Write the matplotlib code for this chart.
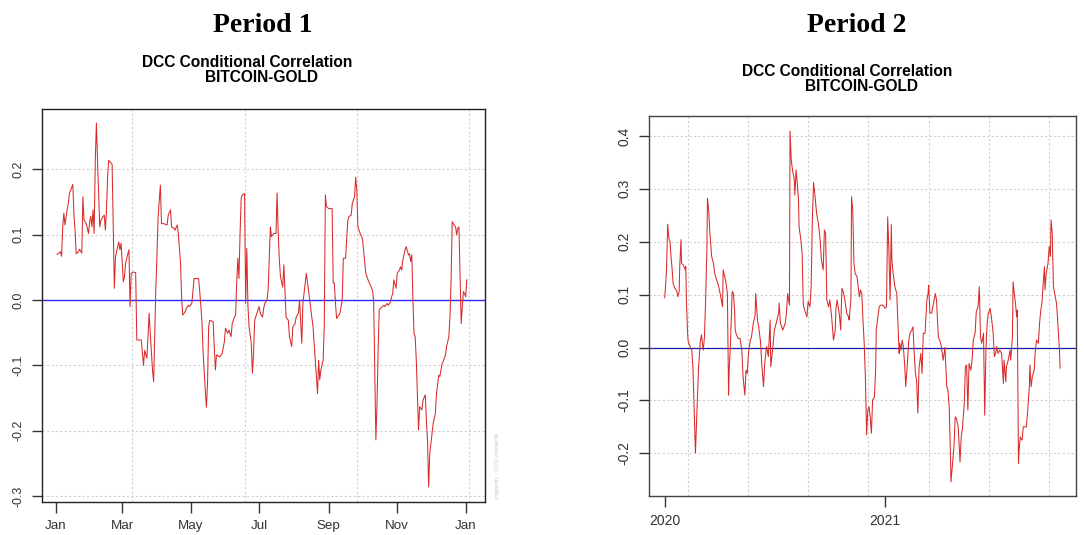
import matplotlib
matplotlib.use("Agg")
import matplotlib.pyplot as plt
import matplotlib.dates as mdates
import pandas as pd

plt.rcParams['font.family'] = ['Liberation Sans', 'DejaVu Sans']

# ---- Period 1 : DCC conditional correlation, BITCOIN-GOLD (2019) ----
p1_start = "2019-01-01"
p1_days = [1, 4, 5, 6, 7, 8, 10, 11, 12, 15, 16, 17, 18, 20, 21, 23, 24, 25, 27, 29,
           30, 31, 32, 33, 34, 35, 36, 37, 39, 40, 42, 43, 44, 45, 46, 47, 50, 51, 52, 53,
           54, 55, 56, 57, 58, 60, 61, 62, 64, 65, 66, 67, 69, 71, 72, 76, 78, 79, 81, 82,
           83, 84, 86, 87, 88, 89, 90, 91, 93, 94, 96, 99, 100, 102, 103, 105, 106, 108, 109, 111,
           112, 113, 115, 116, 118, 119, 121, 122, 123, 127, 128, 130, 131, 133, 134, 135, 136, 137, 140, 142,
           143, 146, 148, 150, 151, 153, 154, 156, 157, 159, 160, 161, 162, 163, 164, 165, 166, 168, 169, 170,
           171, 172, 174, 175, 176, 177, 179, 181, 182, 184, 185, 186, 188, 189, 191, 192, 194, 196, 197, 198,
           199, 200, 202, 203, 204, 205, 207, 208, 210, 211, 213, 214, 216, 217, 219, 220, 222, 223, 224, 226,
           227, 229, 230, 232, 233, 234, 235, 236, 238, 239, 240, 241, 243, 246, 247, 248, 249, 250, 252, 253,
           255, 256, 258, 260, 261, 263, 264, 266, 267, 268, 269, 271, 273, 274, 276, 278, 280, 282, 283, 284,
           285, 286, 287, 288, 289, 292, 293, 295, 296, 298, 299, 300, 301, 303, 304, 306, 307, 308, 309, 311,
           312, 314, 315, 316, 317, 318, 319, 320, 321, 323, 324, 326, 327, 329, 330, 331, 332, 333, 335, 336,
           338, 339, 341, 342, 344, 345, 347, 348, 350, 351, 352, 353, 354, 356, 357, 358, 359, 360, 361, 362,
           363, 364, 365, 366]
p1_corr = [0.070, 0.074, 0.067, 0.112, 0.133, 0.115, 0.139, 0.148, 0.163, 0.177, 0.130, 0.107, 0.071, 0.074, 0.078, 0.072, 0.158, 0.122, 0.117, 0.102,
           0.120, 0.128, 0.112, 0.138, 0.102, 0.212, 0.271, 0.214, 0.112, 0.122, 0.128, 0.130, 0.107, 0.138, 0.189, 0.214, 0.208, 0.112, 0.018, 0.066,
           0.074, 0.082, 0.089, 0.077, 0.087, 0.028, 0.036, 0.056, 0.071, 0.077, -0.010, 0.041, 0.043, 0.042, -0.061, -0.061, -0.100, -0.077, -0.089, -0.056,
           -0.020, -0.051, -0.107, -0.125, -0.051, 0.020, 0.071, 0.128, 0.176, 0.117, 0.117, 0.115, 0.130, 0.138, 0.112, 0.110, 0.107, 0.115, 0.102, 0.056,
           0.000, -0.023, -0.018, -0.013, -0.008, -0.010, -0.005, 0.013, 0.033, 0.033, 0.015, -0.031, -0.077, -0.138, -0.164, -0.128, -0.041, -0.031, -0.033, -0.107,
           -0.084, -0.087, -0.082, -0.064, -0.043, -0.051, -0.046, -0.056, -0.036, -0.026, -0.023, 0.026, 0.064, 0.033, 0.102, 0.156, 0.161, 0.163, -0.005, 0.079,
           -0.008, -0.041, -0.066, -0.112, -0.082, -0.031, -0.020, -0.010, -0.020, -0.026, -0.013, -0.005, 0.000, 0.015, 0.112, 0.097, 0.102, 0.102, 0.164, 0.102,
           0.061, 0.036, 0.020, 0.054, 0.015, -0.026, -0.031, -0.056, -0.071, -0.041, -0.036, -0.026, -0.020, 0.000, -0.066, -0.005, 0.026, 0.041, 0.028, 0.000,
           -0.015, -0.041, -0.066, -0.117, -0.143, -0.092, -0.122, -0.107, -0.092, -0.041, 0.161, 0.143, 0.140, 0.140, 0.026, 0.026, -0.005, -0.028, -0.023, -0.020,
           0.000, 0.064, 0.064, 0.122, 0.128, 0.130, 0.148, 0.158, 0.188, 0.168, 0.112, 0.102, 0.094, 0.077, 0.041, 0.031, 0.023, 0.015, 0.000, -0.102,
           -0.214, -0.158, -0.077, -0.015, -0.013, -0.008, -0.010, -0.005, -0.008, -0.003, 0.005, 0.010, 0.031, 0.018, 0.041, 0.046, 0.051, 0.046, 0.061, 0.077,
           0.082, 0.069, 0.071, 0.059, 0.069, 0.000, -0.051, -0.056, -0.092, -0.199, -0.163, -0.168, -0.153, -0.145, -0.184, -0.214, -0.286, -0.235, -0.204, -0.189,
           -0.174, -0.143, -0.115, -0.117, -0.097, -0.094, -0.084, -0.071, -0.056, -0.026, 0.031, 0.120, 0.117, 0.112, 0.100, 0.110, 0.112, 0.041, -0.036, -0.010,
           0.013, 0.010, 0.005, 0.031]

# ---- Period 2 : DCC conditional correlation, BITCOIN-GOLD (2020-2021) ----
p2_start = "2020-01-01"
p2_days = [0, 1, 3, 5, 7, 9, 10, 12, 14, 17, 20, 22, 24, 25, 27, 28, 31, 34, 35, 36,
           38, 39, 42, 45, 47, 49, 51, 53, 56, 59, 61, 64, 66, 68, 70, 71, 73, 75, 78, 81,
           83, 86, 89, 92, 94, 96, 97, 99, 102, 104, 105, 106, 107, 109, 112, 114, 116, 117, 119, 122,
           125, 128, 130, 133, 135, 137, 139, 142, 144, 147, 150, 151, 154, 156, 159, 161, 164, 166, 169, 172,
           175, 176, 179, 182, 185, 189, 190, 192, 196, 200, 202, 204, 207, 208, 210, 212, 215, 216, 218, 220,
           222, 223, 226, 228, 230, 233, 236, 238, 241, 243, 245, 247, 249, 252, 255, 258, 260, 263, 265, 267,
           269, 272, 274, 277, 280, 283, 284, 286, 290, 292, 294, 296, 299, 302, 305, 306, 309, 310, 312, 314,
           316, 319, 321, 323, 325, 327, 329, 331, 333, 335, 337, 339, 341, 343, 345, 348, 350, 351, 353, 356,
           358, 362, 366, 368, 370, 372, 374, 376, 377, 379, 382, 385, 387, 389, 390, 392, 394, 396, 398, 400,
           403, 405, 407, 410, 412, 414, 416, 418, 420, 422, 425, 427, 429, 432, 435, 437, 438, 440, 443, 446,
           449, 451, 454, 457, 459, 462, 465, 468, 470, 472, 474, 475, 478, 480, 482, 484, 487, 490, 492, 494,
           497, 499, 501, 503, 505, 508, 510, 512, 515, 517, 520, 522, 524, 526, 529, 530, 531, 533, 535, 537,
           540, 542, 545, 547, 549, 551, 553, 556, 559, 562, 563, 566, 567, 570, 573, 574, 577, 578, 580, 582,
           584, 585, 587, 588, 590, 593, 595, 598, 600, 602, 605, 606, 608, 610, 613, 615, 617, 620, 622, 624,
           626, 628, 630, 631, 633, 636, 638, 640, 641, 643, 645, 647, 650, 652, 655, 656]
p2_corr = [0.094, 0.109, 0.147, 0.233, 0.206, 0.200, 0.178, 0.153, 0.121, 0.112, 0.107, 0.096, 0.106, 0.153, 0.204, 0.159, 0.156, 0.147, 0.153, 0.090,
           0.027, 0.011, 0.002, -0.005, -0.043, -0.118, -0.199, -0.137, -0.043, 0.011, 0.024, -0.005, 0.020, 0.093, 0.184, 0.282, 0.260, 0.216, 0.172, 0.159,
           0.140, 0.128, 0.118, 0.102, 0.090, 0.077, 0.147, 0.137, 0.121, 0.102, 0.008, -0.090, -0.043, 0.002, 0.106, 0.102, 0.071, 0.033, 0.024, 0.017,
           0.017, -0.005, -0.055, -0.090, -0.043, -0.049, -0.011, 0.014, 0.020, 0.046, 0.061, 0.102, 0.052, 0.039, 0.011, -0.030, -0.074, -0.030, 0.002, -0.017,
           0.052, -0.036, -0.005, 0.033, 0.046, 0.065, 0.084, 0.046, 0.033, 0.046, 0.065, 0.102, 0.080, 0.409, 0.354, 0.336, 0.317, 0.288, 0.336, 0.310,
           0.279, 0.228, 0.203, 0.178, 0.080, 0.068, 0.058, 0.087, 0.077, 0.115, 0.241, 0.312, 0.291, 0.254, 0.235, 0.203, 0.165, 0.147, 0.222, 0.216,
           0.090, 0.077, 0.090, 0.058, 0.014, 0.033, 0.071, 0.090, 0.061, 0.033, 0.112, 0.106, 0.090, 0.065, 0.058, 0.052, 0.090, 0.285, 0.260, 0.159,
           0.140, 0.134, 0.115, 0.096, 0.109, 0.102, 0.052, 0.008, -0.055, -0.165, -0.118, -0.112, -0.131, -0.162, -0.099, -0.093, -0.043, 0.033, 0.052, 0.077,
           0.080, 0.080, 0.074, 0.077, 0.247, 0.184, 0.090, 0.232, 0.165, 0.140, 0.115, 0.102, 0.046, -0.011, 0.008, -0.005, 0.014, 0.002, -0.030, -0.074,
           -0.024, 0.014, 0.027, 0.033, 0.039, -0.011, -0.049, -0.062, -0.124, -0.039, -0.011, -0.049, 0.027, 0.027, 0.090, 0.102, 0.118, 0.065, 0.065, 0.084,
           0.102, 0.090, 0.020, 0.011, 0.002, -0.024, 0.000, -0.074, -0.080, -0.112, -0.194, -0.254, -0.213, -0.187, -0.131, -0.134, -0.150, -0.216, -0.169, -0.153,
           -0.106, -0.036, -0.033, -0.118, -0.030, -0.043, -0.024, 0.014, 0.027, 0.068, 0.077, 0.115, 0.020, 0.008, 0.027, -0.055, -0.128, -0.005, 0.046, 0.065,
           0.074, 0.058, 0.027, -0.017, -0.011, 0.002, -0.011, -0.005, -0.011, -0.068, -0.024, -0.065, -0.036, -0.024, -0.005, -0.024, 0.020, 0.124, 0.102, 0.084,
           0.058, 0.071, -0.219, -0.194, -0.169, -0.175, -0.150, -0.150, -0.150, -0.124, -0.074, -0.033, -0.074, -0.055, -0.043, -0.005, 0.014, 0.008, 0.046, 0.071,
           0.084, 0.121, 0.153, 0.109, 0.140, 0.159, 0.191, 0.172, 0.241, 0.216, 0.115, 0.102, 0.084, 0.052, -0.005, -0.039]

# axis ticks
p1_ticks = ["2019-01-01", "2019-03-01", "2019-05-01", "2019-07-01",
            "2019-09-01", "2019-11-01", "2020-01-01"]
p1_ticklabels = ["Jan", "Mar", "May", "Jul", "Sep", "Nov", "Jan"]
p1_yticks = [-0.3, -0.2, -0.1, 0.0, 0.1, 0.2]
p2_ticks = ["2020-01-01", "2021-01-01"]
p2_ticklabels = ["2020", "2021"]
p2_yticks = [-0.2, -0.1, 0.0, 0.1, 0.2, 0.3, 0.4]

GRID = dict(color="#d0d0d0", linestyle=(0, (2, 2)), linewidth=0.8, zorder=0)


def to_dates(start, days):
    return pd.Timestamp(start) + pd.to_timedelta(days, unit="D")


def draw_panel(ax, start, days, corr, xlim_days, vgrid_days, ticks, ticklabels,
               yticks, ylim, zero_color, zero_lw, fs_x, fs_y, pad_x, pad_y,
               spine_color):
    dates = to_dates(start, days)
    t0 = mdates.date2num(pd.Timestamp(start))
    ax.plot(dates, corr, color="#d92a2a", linewidth=0.75, zorder=3)
    ax.axhline(0, color=zero_color, linewidth=zero_lw, zorder=2)
    ax.set_xlim(t0 + xlim_days[0], t0 + xlim_days[1])
    ax.set_ylim(*ylim)
    for d in vgrid_days:
        ax.axvline(t0 + d, **GRID)
    for y in yticks:
        ax.axhline(y, **GRID)
    ax.set_xticks([mdates.date2num(pd.Timestamp(t)) for t in ticks])
    ax.set_xticklabels(ticklabels, fontsize=fs_x, color="#222222")
    ax.set_yticks(yticks)
    ax.set_yticklabels([f"{v:.1f}" for v in yticks], fontsize=fs_y,
                       rotation=90, va="center", color="#222222")
    ax.tick_params(axis="x", length=8, width=1, pad=pad_x, colors="#333333")
    ax.tick_params(axis="y", length=7, width=1, pad=pad_y, colors="#333333")
    for s in ax.spines.values():
        s.set_color(spine_color)
        s.set_linewidth(1.0)


fig = plt.figure(figsize=(10.84, 5.35), dpi=100)

ax1 = fig.add_axes([0.0387, 0.0617, 0.4087, 0.7346])
draw_panel(ax1, p1_start, p1_days, p1_corr, (-12.5, 382.2), [68, 168, 268, 368],
           p1_ticks, p1_ticklabels, p1_yticks, (-0.309, 0.2925),
           "#2a2aff", 1.0, 9.6, 9.0, 5.0, 5.5, "#222222")

ax2 = fig.add_axes([0.5990, 0.0735, 0.3936, 0.7097])
draw_panel(ax2, p2_start, p2_days, p2_corr, (-25.5, 682.4),
           [38, 138, 238, 338, 438, 538, 638],
           p2_ticks, p2_ticklabels, p2_yticks, (-0.280, 0.4376),
           "#1c1ca8", 0.9, 10.0, 10.0, 5.5, 6.0, "#444444")

# panel headings
fig.text(263 / 1084, 1 - 32 / 535, "Period 1", family="Liberation Serif",
         weight="bold", fontsize=20, ha="center", va="baseline")
fig.text(857 / 1084, 1 - 32 / 535, "Period 2", family="Liberation Serif",
         weight="bold", fontsize=20, ha="center", va="baseline")

fig.text(247 / 1084, 1 - 67 / 535, "DCC Conditional Correlation",
         weight="bold", fontsize=11.2, ha="center", va="baseline")
fig.text(261 / 1084, 1 - 82 / 535, "BITCOIN-GOLD",
         weight="bold", fontsize=11.2, ha="center", va="baseline")
fig.text(847 / 1084, 1 - 76 / 535, "DCC Conditional Correlation",
         weight="bold", fontsize=11.2, ha="center", va="baseline")
fig.text(862 / 1084, 1 - 91 / 535, "BITCOIN-GOLD",
         weight="bold", fontsize=11.2, ha="center", va="baseline")

# package stamp beside the first panel
fig.text(497 / 1084, 1 - 466 / 535, "rmgarch  : DCC model fit", rotation=90,
         fontsize=4.3, color="#c4c4c4", ha="center", va="center")

fig.savefig("out.png", dpi=100)
